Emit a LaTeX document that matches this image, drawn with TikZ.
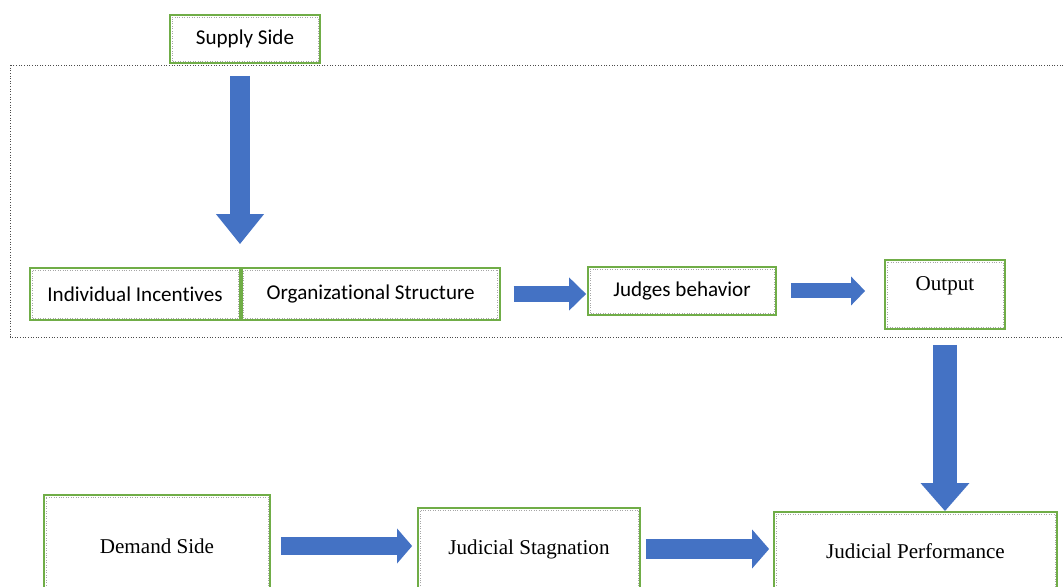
\documentclass[tikz,border=0pt]{standalone}
\usepackage{fontspec}
\setmainfont{Liberation Serif}
\newfontfamily\calibri[Ligatures=NoCommon]{Carlito}
\usepackage{tikz}
\usetikzlibrary{positioning,calc,arrows.meta}
\definecolor{boxgreen}{HTML}{70AD47}
\definecolor{arrowblue}{HTML}{4472C4}
\tikzset{
  box/.style={draw=boxgreen, line width=1pt, fill=white, inner sep=0pt,
    path picture={\draw[gray!70, densely dotted, line width=0.4pt]
      ([shift={(1.1pt,1.1pt)}]path picture bounding box.south west) rectangle
      ([shift={(-1.1pt,-1.1pt)}]path picture bounding box.north east);}},
  sansbox/.style={box, font=\calibri\fontsize{12}{14}\selectfont},
  serifbox/.style={box, font=\fontsize{12}{14}\selectfont},
  fatarrow/.style={arrowblue, line width=#1},
  fatarrow/.default=0.32cm,
}
\begin{document}
\begin{tikzpicture}[x=0.02cm,y=-0.02cm]
\useasboundingbox (0,0) rectangle (1063,587);
% outer dotted frame
\draw[black!70, densely dotted, line width=0.5pt] (10,65) rectangle (1075,337);

\node[sansbox, minimum width=3cm, minimum height=0.96cm] (supply) at (245,39) {Supply Side};
\node[sansbox, minimum width=4.2cm, minimum height=1.04cm] (indiv) at (135,294) {Individual Incentives};
\node[sansbox, minimum width=5.16cm, minimum height=1.04cm, right=0pt of indiv] (org) {Organizational Structure};
\node[sansbox, minimum width=3.76cm, minimum height=0.96cm] (judges) at (682,291) {Judges behavior};
\node[serifbox, minimum width=2.4cm, minimum height=1.38cm, text depth=0.45cm] (output) at (945,294.5) {Output};

\node[serifbox, minimum width=4.52cm, minimum height=2.04cm] (demand) at (157,546) {Demand Side};
\node[serifbox, minimum width=4.44cm, minimum height=1.64cm] (stag) at (529,549) {Judicial Stagnation};
\node[serifbox, minimum width=5.66cm, minimum height=1.56cm] (perf) at (915.5,551) {Judicial Performance};

% block arrows
\draw[fatarrow=0.4cm, -{Triangle[length=0.6cm,width=0.92cm]}]
  ([shift={(-5,12)}]supply.south) -- ([shift={(-5,-23)}]supply.south |- indiv.north);
\draw[fatarrow, -{Triangle[length=0.34cm,width=0.64cm]}]
  ([xshift=0.26cm]org.east) -- ([xshift=-0.02cm]judges.west |- org.east);
\draw[fatarrow=0.3cm, -{Triangle[length=0.28cm,width=0.56cm]}]
  ([xshift=0.28cm]judges.east) -- ([xshift=-0.38cm]output.west |- judges.east);
\draw[fatarrow=0.48cm, -{Triangle[length=0.56cm,width=0.94cm]}]
  ([yshift=-0.3cm]output.south) -- (output.south |- perf.north);
\draw[fatarrow=0.36cm, -{Triangle[length=0.3cm,width=0.68cm]}]
  ([xshift=0.2cm]demand.east) -- ([xshift=-0.1cm]stag.west |- demand.east);
\draw[fatarrow=0.4cm, -{Triangle[length=0.34cm,width=0.76cm]}]
  ([xshift=0.1cm]stag.east) -- ([xshift=-0.08cm]perf.west |- stag.east);
\end{tikzpicture}
\end{document}
